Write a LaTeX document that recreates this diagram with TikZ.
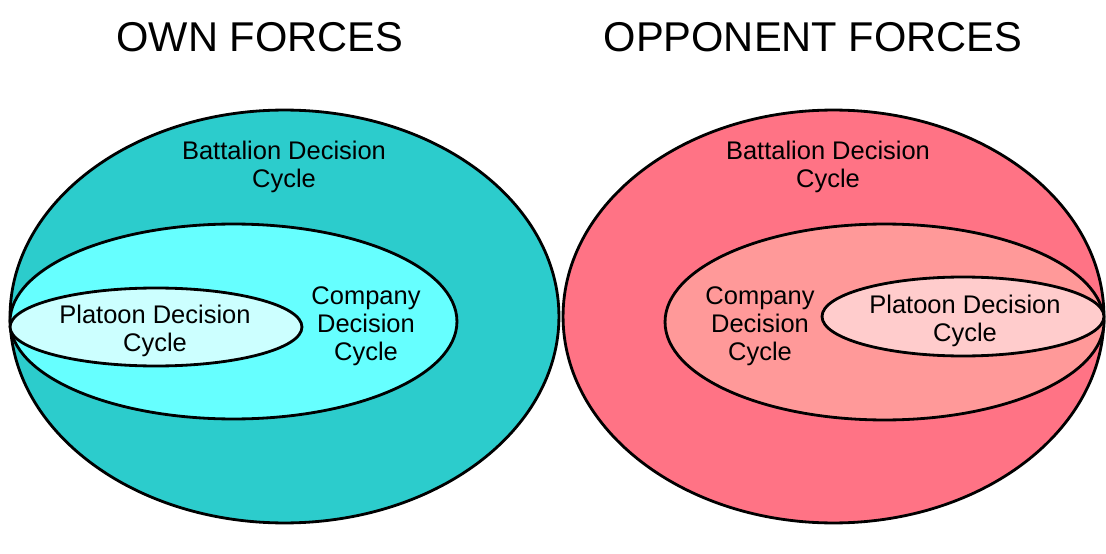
\documentclass[tikz,border=0pt]{standalone}
\usepackage{fontspec}
\setmainfont{Liberation Sans}
\usepackage{tikz}
\usetikzlibrary{shapes.geometric, positioning}
\definecolor{owndark}{RGB}{44,204,204}
\definecolor{ownmid}{RGB}{102,255,255}
\definecolor{ownlight}{RGB}{204,255,255}
\definecolor{oppdark}{RGB}{255,115,133}
\definecolor{oppmid}{RGB}{255,153,153}
\definecolor{opplight}{RGB}{255,204,204}
\tikzstyle{decision} = [ellipse, draw=black, line width=1.6pt, inner sep=0pt]
\tikzstyle{cycletext} = [align=center, inner sep=0pt, font=\fontsize{14.5}{16}\selectfont]
\tikzstyle{forcetitle} = [inner sep=0pt, font=\fontsize{23.7}{28}\selectfont]

\begin{document}
\begin{tikzpicture}[x=0.02cm, y=-0.02cm]
    \useasboundingbox (0,0) rectangle (1106,554);

    \node (ownbattalion) [decision, fill=owndark, minimum width=10.98cm, minimum height=8.26cm] at (284.5,316.5) {};
    \node (owncompany) [decision, fill=ownmid, minimum width=8.94cm, minimum height=3.9cm] at (233.5,321.5) {};
    \node (ownplatoon) [decision, fill=ownlight, minimum width=5.84cm, minimum height=1.56cm] at (156,327) {};

    \node (oppbattalion) [decision, fill=oppdark, minimum width=10.82cm, minimum height=8.26cm] at (833.5,316.5) {};
    \node (oppcompany) [decision, fill=oppmid, minimum width=8.78cm, minimum height=3.92cm] at (884.5,322) {};
    \node (oppplatoon) [decision, fill=opplight, minimum width=5.64cm, minimum height=1.58cm] at (963,316.5) {};

    \node (owntitle) [forcetitle] at (260,37) {OWN FORCES};
    \node (opptitle) [forcetitle] at (813,37) {OPPONENT FORCES};

    \node (ownbattaliontext) [cycletext] at (284,167) {Battalion Decision\\Cycle};
    \node (owncompanytext) [cycletext] at (366,326) {Company\\Decision\\Cycle};
    \node (ownplatoontext) [cycletext] at (155,331) {Platoon Decision\\Cycle};

    \node (oppbattaliontext) [cycletext] at (828,167) {Battalion Decision\\Cycle};
    \node (oppcompanytext) [cycletext] at (760,326) {Company\\Decision\\Cycle};
    \node (oppplatoontext) [cycletext] at (965,321) {Platoon Decision\\Cycle};
  \end{tikzpicture}
\end{document}
